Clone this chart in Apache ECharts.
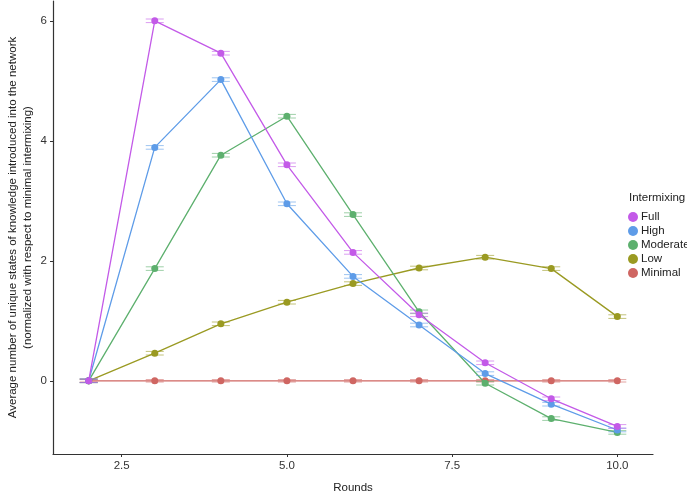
<!DOCTYPE html>
<html><head><meta charset="utf-8">
<script src="https://cdn.jsdelivr.net/npm/echarts@6/dist/echarts.min.js"></script>
<style>html,body{margin:0;padding:0;background:#fff}#c{width:687px;height:495px}</style>
</head><body><div id="c"></div>
<script>
const rounds = [2,3,4,5,6,7,8,9,10];
const seriesNames = ['Full','High','Moderate','Low','Minimal'];
const fullVals = [0,6.00,5.46,3.60,2.14,1.10,0.30,-0.30,-0.76];
const highVals = [0,3.89,5.02,2.95,1.74,0.93,0.12,-0.39,-0.82];
const moderateVals = [0,1.87,3.76,4.41,2.77,1.15,-0.04,-0.63,-0.86];
const lowVals = [0,0.46,0.95,1.31,1.62,1.88,2.06,1.87,1.07];
const minimalVals = [0,0,0,0,0,0,0,0,0];
const fullErr = [0.03,0.03,0.03,0.03,0.03,0.03,0.03,0.03,0.03];
const highErr = [0.03,0.03,0.03,0.03,0.03,0.03,0.03,0.03,0.03];
const moderateErr = [0.03,0.03,0.03,0.03,0.03,0.03,0.03,0.03,0.03];
const lowErr = [0.03,0.03,0.03,0.03,0.03,0.03,0.03,0.03,0.03];
const minimalErr = [0.02,0.02,0.02,0.02,0.02,0.02,0.02,0.02,0.02];
const xTicks = [2.5,5.0,7.5,10.0];
const yTicks = [0,2,4,6];
const colors = {Full:'#C35AE8',High:'#5E9CE8',Moderate:'#5DB06E',Low:'#9A9A22',Minimal:'#CF6662'};

const valsMap = {Full:fullVals,High:highVals,Moderate:moderateVals,Low:lowVals,Minimal:minimalVals};
const errMap = {Full:fullErr,High:highErr,Moderate:moderateErr,Low:lowErr,Minimal:minimalErr};

const chart = echarts.init(document.getElementById('c'));
const series = [];
const drawOrder = ['Minimal','Low','Moderate','High','Full'];
drawOrder.forEach((name,i)=>{
  const col = colors[name];
  series.push({
    name: name, type:'line', z: 3+i,
    data: rounds.map((r,j)=>[r,valsMap[name][j]]),
    symbol:'circle', symbolSize:7, showSymbol:true,
    itemStyle:{color:col}, lineStyle:{color:col,width:1.3},
    emphasis:{disabled:true}, animation:false
  });
  series.push({
    name: name, type:'custom', z: 3+i,
    data: rounds.map((r,j)=>[r,valsMap[name][j],errMap[name][j]]),
    renderItem:(params,api)=>{
      const x=api.value(0), y=api.value(1), e=api.value(2);
      const top=api.coord([x,y+e]), bot=api.coord([x,y-e]);
      const hw=9;
      const st={stroke:col,lineWidth:1,opacity:0.6};
      return {type:'group',children:[
        {type:'line',shape:{x1:top[0],y1:top[1],x2:bot[0],y2:bot[1]},style:st},
        {type:'line',shape:{x1:top[0]-hw,y1:top[1],x2:top[0]+hw,y2:top[1]},style:st},
        {type:'line',shape:{x1:bot[0]-hw,y1:bot[1],x2:bot[0]+hw,y2:bot[1]},style:st}
      ]};
    },
    silent:true, animation:false
  });
});

const axisLine = {show:true,onZero:false,lineStyle:{color:'#333',width:1.2}};
chart.setOption({
  animation:false,
  textStyle:{fontFamily:'Liberation Sans, Arial, sans-serif'},
  grid:{left:53,right:34,top:1,bottom:41,outerBoundsMode:'none',containLabel:false},
  legend:{
    data: seriesNames.map(n=>({name:n,icon:'circle',itemStyle:{color:colors[n]}})),
    orient:'vertical', left:623, top:206, itemWidth:10, itemHeight:10, itemGap:2,
    textStyle:{fontSize:11.5,color:'#222',padding:[0,0,0,-2]}, selectedMode:false
  },
  graphic:[{type:'text',left:629,top:192,style:{text:'Intermixing',fontSize:11.5,fill:'#222',fontFamily:'Liberation Sans, Arial, sans-serif'}}],
  xAxis:{
    type:'value', min:1.46, max:10.54,
    name:'Rounds', nameLocation:'middle', nameGap:28, nameMoveOverlap:false,
    nameTextStyle:{fontSize:11.5,color:'#222'},
    axisLine: axisLine,
    axisTick:{show:true,length:3,lineStyle:{color:'#333'},customValues:xTicks},
    axisLabel:{fontSize:11.5,color:'#333',margin:6,customValues:xTicks,formatter:v=>v.toFixed(1)},
    splitLine:{show:false}
  },
  yAxis:{
    type:'value', min:-1.22, max:6.33,
    name:'Average number of unique states of knowledge introduced into the network\n(normalized with respect to minimal intermixing)',
    nameLocation:'middle', nameGap:18, nameRotate:90, nameMoveOverlap:false,
    nameTextStyle:{fontSize:11.5,color:'#222',lineHeight:15,align:'center'},
    axisLine: axisLine,
    axisTick:{show:true,length:3,lineStyle:{color:'#333'},customValues:yTicks},
    axisLabel:{fontSize:11.5,color:'#333',margin:6,customValues:yTicks},
    splitLine:{show:false}
  },
  series: series
});
</script></body></html>
